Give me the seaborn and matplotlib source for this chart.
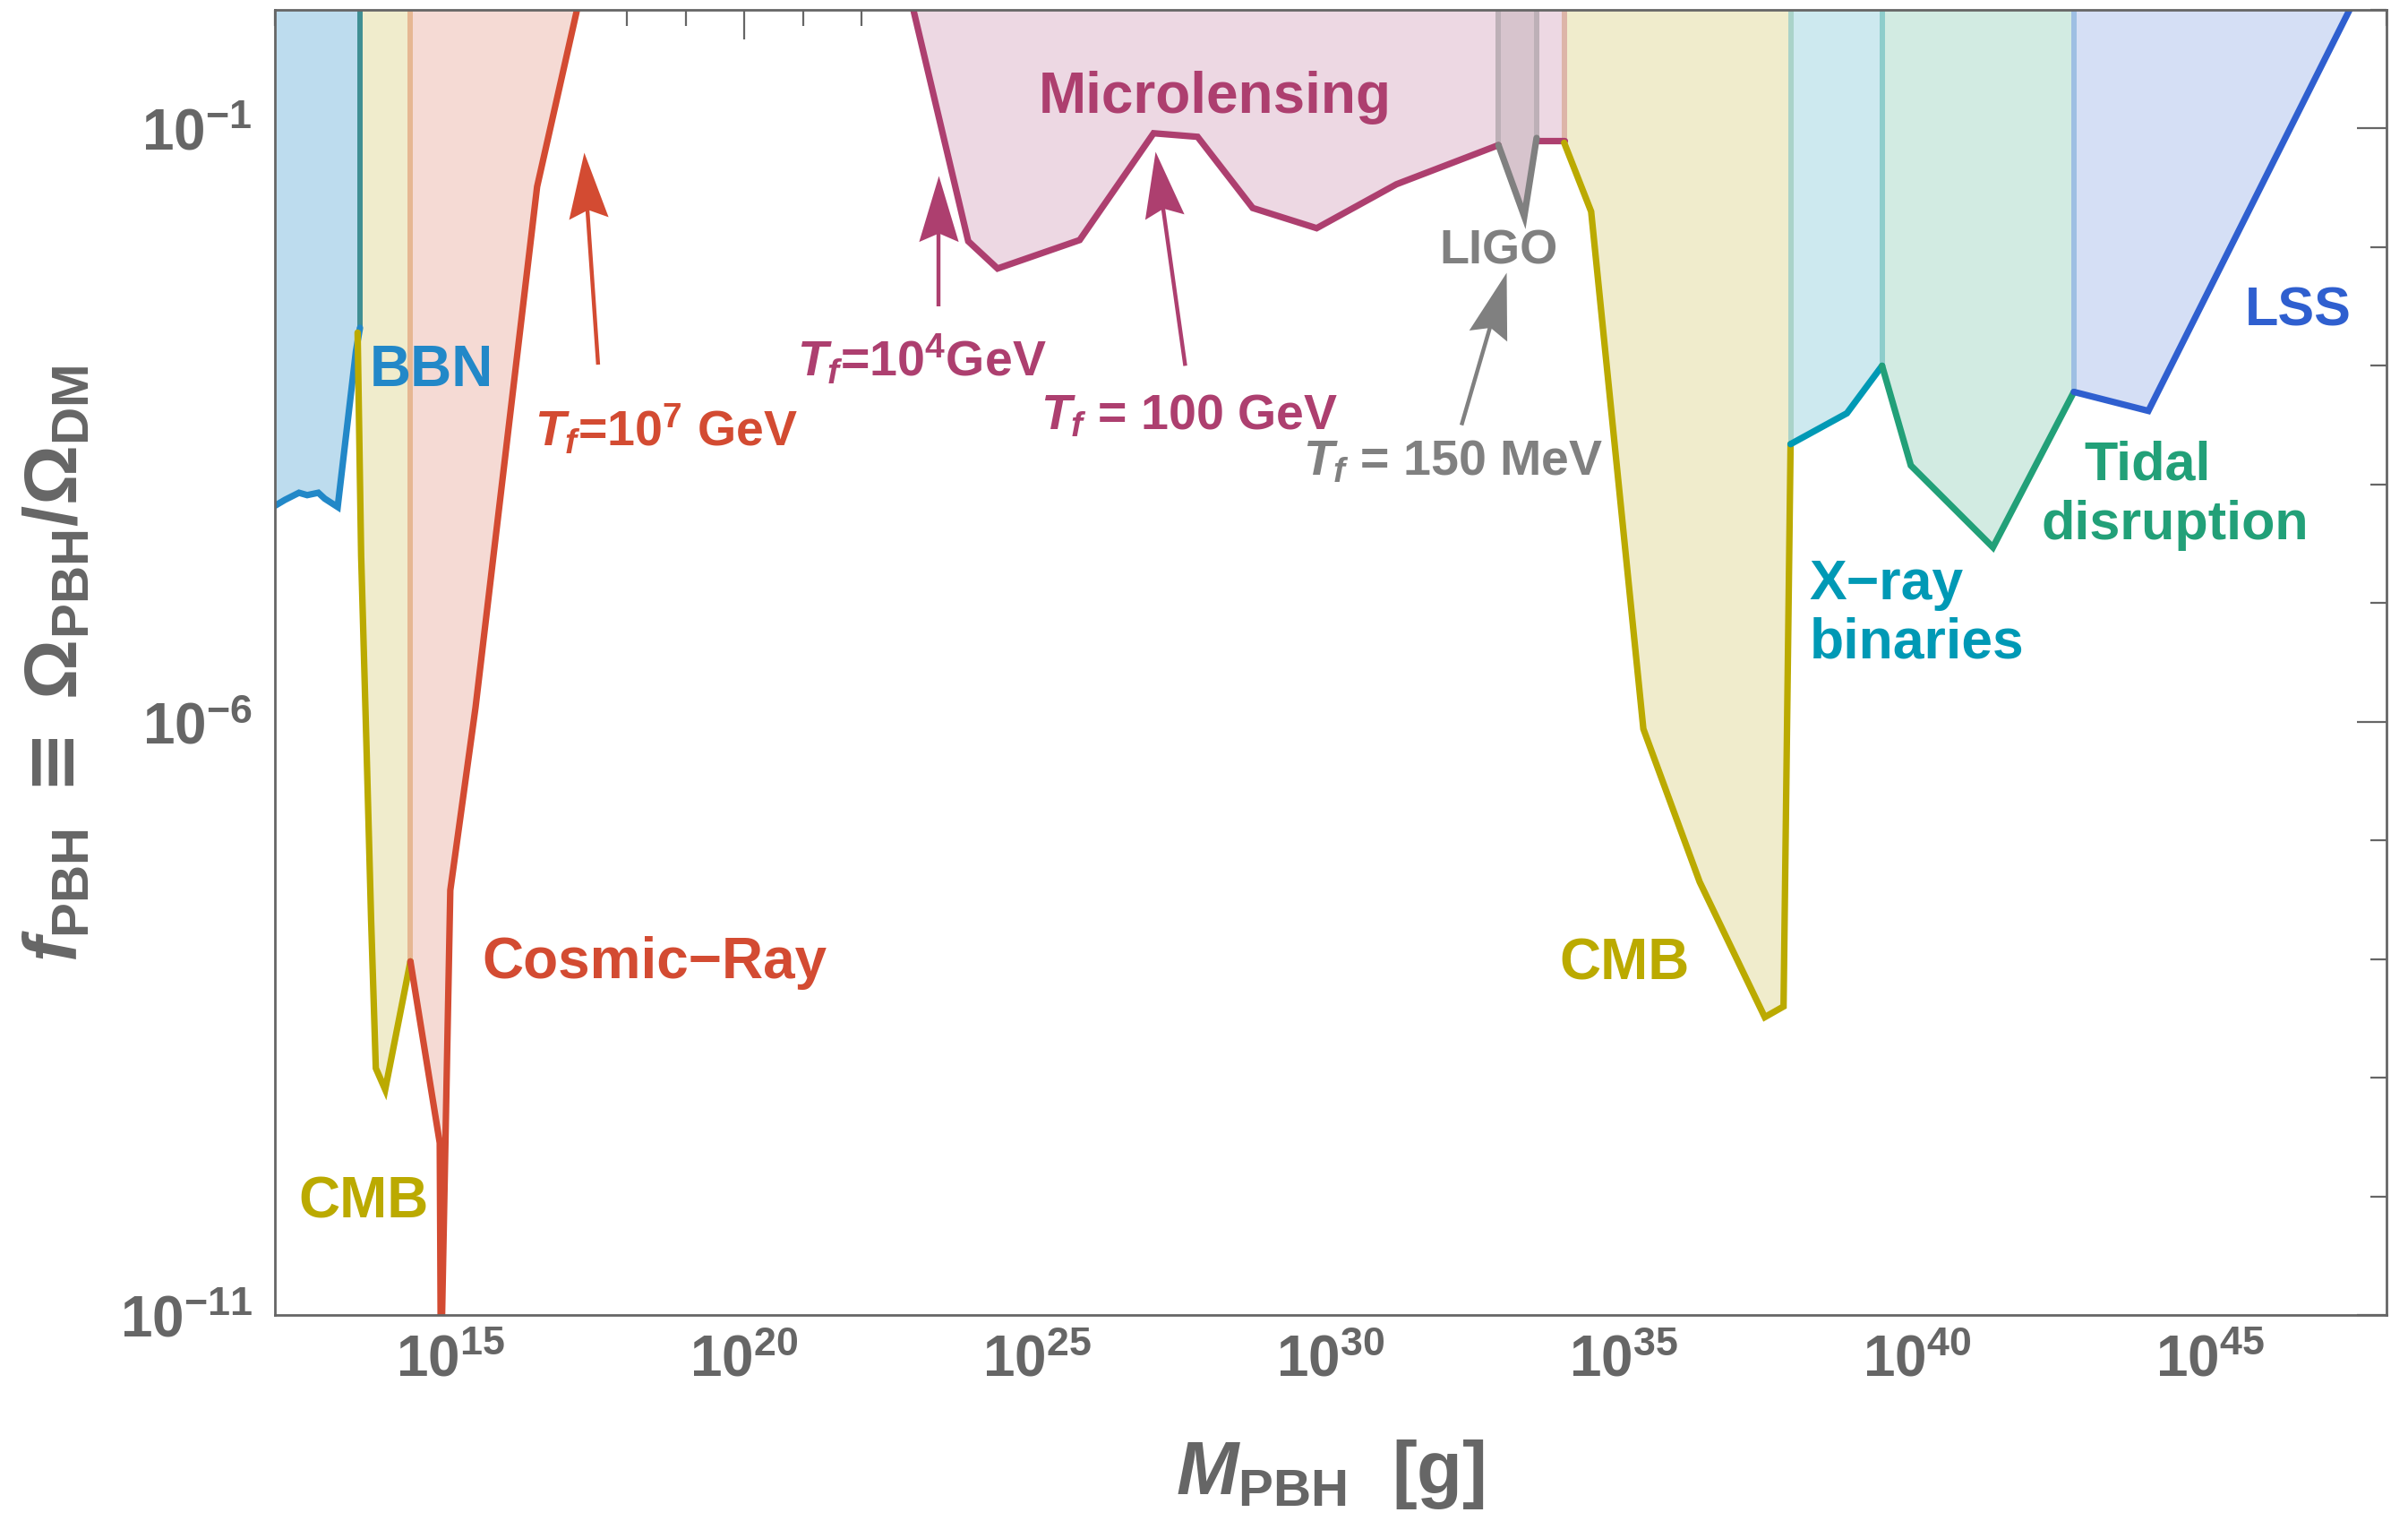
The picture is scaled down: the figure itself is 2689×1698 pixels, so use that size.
import numpy as np
import matplotlib
matplotlib.use("Agg")
import matplotlib.pyplot as plt
from matplotlib.path import Path
from matplotlib.markers import MarkerStyle
from matplotlib.transforms import Affine2D
import seaborn as sns

# ---------------- constraint boundaries: log10(M/g), log10(f_PBH) ----------------
bbn_logm = [12.00, 12.17, 12.41, 12.55, 12.74, 12.85, 13.07, 13.38, 13.45]
bbn_logf = [-4.18, -4.13, -4.07, -4.09, -4.07, -4.12, -4.19, -2.88, -2.68]

cmb_lo_logm = [13.41, 13.47, 13.56, 13.64, 13.72, 13.88, 14.31]
cmb_lo_logf = [-2.72, -4.60, -6.19, -7.67, -8.92, -9.10, -8.02]

cr_logm = [14.31, 14.81, 14.83, 14.99, 15.42, 16.47, 17.15]
cr_logf = [-8.02, -9.55, -11.5, -7.42, -5.88, -1.49, 0.0]

micro_logm = [22.885, 23.82, 24.32, 25.72, 26.98, 27.73, 28.67, 29.76, 31.12, 32.86, 33.51, 33.98]
micro_logf = [0.0, -1.95, -2.18, -1.94, -1.04, -1.07, -1.67, -1.84, -1.47, -1.14, -1.10, -1.10]

ligo_logm = [32.86, 33.30, 33.51]
ligo_logf = [-1.14, -1.74, -1.08]

cmb_hi_logm = [33.98, 34.44, 35.33, 36.29, 37.40, 37.72, 37.84]
cmb_hi_logf = [-1.12, -1.70, -6.06, -7.35, -8.49, -8.40, -3.66]

xray_logm = [37.84, 38.80, 39.40]
xray_logf = [-3.66, -3.40, -3.00]

tidal_logm = [39.40, 39.89, 41.29, 42.67]
tidal_logf = [-3.00, -3.84, -4.53, -3.22]

lss_logm = [42.67, 43.94, 47.37]
lss_logf = [-3.22, -3.38, 0.0]

# formation-temperature markers: (log10 M, log10 f) of arrow tail and tip
tf7_tail, tf7_tip = (17.51, -2.99), (17.26, -1.20)
tf4_tail, tf4_tip = (23.31, -2.50), (23.31, -1.395)
tf100_tail, tf100_tip = (27.52, -3.00), (27.006, -1.193)
tf150_tail, tf150_tip = (32.23, -3.50), (32.99, -2.21)

xtick_exps = [15, 20, 25, 30, 35, 40, 45]
ytick_exps = [-11, -6, -1]

# ---------------- style ----------------
sns.set_theme(style="white")
plt.rcParams["font.family"] = ["Liberation Sans", "DejaVu Sans"]
plt.rcParams["font.weight"] = "bold"
plt.rcParams["axes.labelweight"] = "bold"
plt.rcParams["mathtext.fontset"] = "custom"
plt.rcParams["mathtext.rm"] = "Liberation Sans:bold"
plt.rcParams["mathtext.bf"] = "Liberation Sans:bold"
plt.rcParams["mathtext.sf"] = "DejaVu Sans:bold"
plt.rcParams["mathtext.it"] = "Liberation Sans:bold:italic"

GRAY = "#666666"
LINE_W = 5.2
C = dict(
    bbn=("#2288C8", "#BDDCEE"),
    cmb=("#BBAA00", "#F0ECCC"),
    cr=("#D34B32", "#F5DAD4"),
    micro=("#AD3F6F", "#EDD8E3"),
    ligo=("#808080", "#D7C4CD"),
    xray=("#0099B5", "#CDE9EF"),
    tidal=("#22A078", "#D2EBE2"),
    lss=("#2F5FCF", "#D5DFF5"),
)

fig = plt.figure(figsize=(26.89, 16.99), dpi=100)
ax = fig.add_axes([0.11417, 0.13537, 0.87691, 0.85756])
ax.set_xscale("log")
ax.set_yscale("log")
ax.set_xlim(1e12, 1e48)
ax.set_ylim(1e-11, 1.0)


def P(a):
    return 10.0 ** np.asarray(a, dtype=float)


def fill_region(logm, logf, color, z=1):
    ax.fill_between(P(logm), P(logf), 1.0, color=color, lw=0, zorder=z)


def curve(logm, logf, color):
    n_before = len(ax.lines)
    sns.lineplot(x=P(logm), y=P(logf), sort=False, estimator=None, color=color,
                 ax=ax, legend=False)
    for ln in ax.lines[n_before:]:
        ln.set_linewidth(LINE_W)
        ln.set_zorder(5)
        ln.set_solid_joinstyle("miter")


# filled excluded regions
fill_region(bbn_logm, bbn_logf, C["bbn"][1])
fill_region(cmb_lo_logm, cmb_lo_logf, C["cmb"][1])
fill_region(cr_logm, cr_logf, C["cr"][1])
fill_region(micro_logm, micro_logf, C["micro"][1])
fill_region(ligo_logm, ligo_logf, C["ligo"][1], z=2)
fill_region(cmb_hi_logm, cmb_hi_logf, C["cmb"][1])
fill_region(xray_logm, xray_logf, C["xray"][1])
fill_region(tidal_logm, tidal_logf, C["tidal"][1])
fill_region(lss_logm, lss_logf, C["lss"][1])

# soft vertical edges where neighbouring regions meet
edges = [
    (bbn_logm[-1], bbn_logf[-1], "#3F8F93"),
    (cmb_lo_logm[-1], cmb_lo_logf[-1], "#E6B792"),
    (ligo_logm[0], ligo_logf[0], "#BDB0B7"),
    (ligo_logm[-1], ligo_logf[-1], "#BDB0B7"),
    (cmb_hi_logm[0], cmb_hi_logf[0], "#DDB5A8"),
    (cmb_hi_logm[-1], cmb_hi_logf[-1], "#A9D3C9"),
    (xray_logm[-1], xray_logf[-1], "#8ECDCB"),
    (tidal_logm[-1], tidal_logf[-1], "#9EBFE3"),
]
for lm, lf, col in edges:
    ax.plot([10.0 ** lm] * 2, [10.0 ** lf, 1.0], color=col, lw=4.3, zorder=3,
            solid_capstyle="butt")

# boundary curves
curve(bbn_logm, bbn_logf, C["bbn"][0])
curve(cmb_lo_logm, cmb_lo_logf, C["cmb"][0])
curve(cr_logm, cr_logf, C["cr"][0])
curve(micro_logm[:10], micro_logf[:10], C["micro"][0])
curve(micro_logm[10:], micro_logf[10:], C["micro"][0])
curve(ligo_logm, ligo_logf, C["ligo"][0])
curve(cmb_hi_logm, cmb_hi_logf, C["cmb"][0])
curve(xray_logm, xray_logf, C["xray"][0])
curve(tidal_logm, tidal_logf, C["tidal"][0])
curve(lss_logm, lss_logf, C["lss"][0])

# dart-shaped arrowhead (tip at origin, pointing up)
DART = Path([(0.0, 0.0), (-0.30, -1.0), (0.0, -0.87), (0.30, -1.0), (0.0, 0.0)],
            [Path.MOVETO, Path.LINETO, Path.LINETO, Path.LINETO, Path.CLOSEPOLY])


def arrow(tail, tip, color):
    x0, y0 = 10.0 ** tail[0], 10.0 ** tail[1]
    x1, y1 = 10.0 ** tip[0], 10.0 ** tip[1]
    (dx0, dy0), (dx1, dy1) = ax.transData.transform([(x0, y0), (x1, y1)])
    theta = np.arctan2(dy1 - dy0, dx1 - dx0) - np.pi / 2
    # shaft stops inside the head
    frac = 1.0 - 60.0 / np.hypot(dx1 - dx0, dy1 - dy0)
    xs, ys = ax.transData.inverted().transform(
        (dx0 + frac * (dx1 - dx0), dy0 + frac * (dy1 - dy0)))
    ax.plot([x0, xs], [y0, ys], color=color, lw=3.2, zorder=6,
            solid_capstyle="butt")
    m = MarkerStyle(DART, transform=Affine2D().rotate(theta))
    ax.plot([x1], [y1], marker=m, markersize=106, color=color,
            markeredgewidth=0, linestyle="none", zorder=6)


arrow(tf7_tail, tf7_tip, C["cr"][0])
arrow(tf4_tail, tf4_tip, C["micro"][0])
arrow(tf100_tail, tf100_tip, C["micro"][0])
arrow(tf150_tail, tf150_tip, C["ligo"][0])


def label(lm, lf, s, color, size=46):
    ax.text(10.0 ** lm, 10.0 ** lf, s, color=color, fontsize=size,
            fontweight="bold", ha="left", va="baseline", zorder=7)


label(13.61, -3.165, "BBN", C["bbn"][0])
label(12.41, -10.17, "CMB", C["cmb"][0])
label(15.536, -8.157, "Cosmic\u2212Ray", C["cr"][0])
label(16.42, -3.666, r"$T_f$=10$^{7}$ GeV", C["cr"][0], 40)
label(25.015, -0.858, "Microlensing", C["micro"][0])
label(20.90, -3.08, r"$T_f$=10$^{4}$GeV", C["micro"][0], 40)
label(25.06, -3.526, r"$T_f$ = 100 GeV", C["micro"][0], 40)
label(31.85, -2.134, "LIGO", C["ligo"][0], 39)
label(29.53, -3.91, r"$T_f$ = 150 MeV", C["ligo"][0], 40)
label(33.905, -8.164, "CMB", C["cmb"][0])
label(38.16, -4.958, "X\u2212ray", C["xray"][0], 45)
label(38.16, -5.458, "binaries", C["xray"][0], 45)
label(42.85, -3.955, "Tidal", C["tidal"][0], 44)
label(42.12, -4.456, "disruption", C["tidal"][0], 44)
label(45.59, -2.653, "LSS", C["lss"][0], 44)

# ticks and frame
ax.set_xticks(P(xtick_exps), labels=[rf"$10^{{{e}}}$" for e in xtick_exps])
ax.set_yticks(P(ytick_exps), labels=[rf"$10^{{{e}}}$" for e in ytick_exps])
ax.set_xticks(P(np.arange(12, 49)), minor=True)
ax.set_yticks(P(np.arange(-11, 1)), minor=True)
ax.xaxis.set_minor_formatter(matplotlib.ticker.NullFormatter())
ax.yaxis.set_minor_formatter(matplotlib.ticker.NullFormatter())
ax.set_xlim(1e12, 1e48)
ax.set_ylim(1e-11, 1.0)

ax.tick_params(which="both", direction="in", top=True, right=True,
               color=GRAY, width=1.6, labelcolor=GRAY, labelsize=46)
ax.tick_params(which="major", length=24)
ax.tick_params(which="minor", length=13)
ax.tick_params(axis="x", which="major", pad=15)
ax.tick_params(axis="y", which="major", pad=18)
for sp in ax.spines.values():
    sp.set_color(GRAY)
    sp.set_linewidth(2.0)
    sp.set_zorder(8)

ax.set_xlabel(r"$M_{\rm PBH}$  [g]", fontsize=60, color=GRAY, fontweight="bold")
ax.set_ylabel(r"$f_{\rm PBH}\;\mathsf{\equiv}\;\Omega_{\rm PBH}/\Omega_{\rm DM}$",
              fontsize=60, color=GRAY, fontweight="bold")
ax.xaxis.set_label_coords(0.5, -0.093)
ax.yaxis.set_label_coords(-0.0863, 0.5)

fig.savefig("out.png", dpi=100)
